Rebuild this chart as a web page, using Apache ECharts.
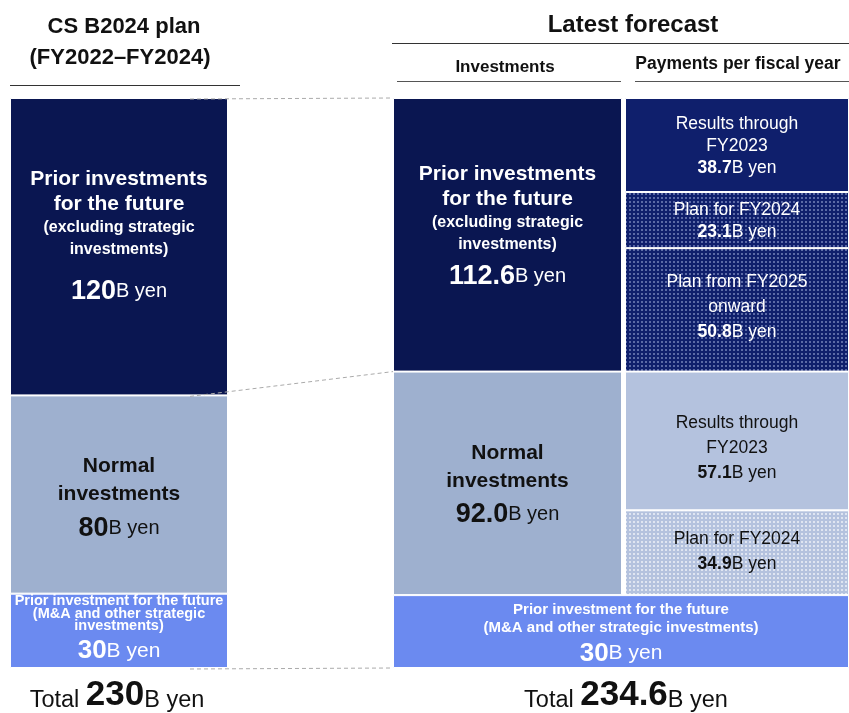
<!DOCTYPE html>
<html>
<head>
<meta charset="utf-8">
<script src="https://cdn.jsdelivr.net/npm/echarts@6/dist/echarts.min.js"></script>
<style>
  html, body { margin: 0; padding: 0; background: #fff; }
  #main { width: 849px; height: 713px; }
</style>
</head>
<body>
<div id="main"></div>
<script>
// values in billions of yen, stacked bottom -> top
var planNames = ['Strategic', 'Normal', 'Prior'];
var planValues = [30, 80, 120];
var forecastNames = ['Strategic', 'Normal', 'Prior'];
var forecastValues = [30, 92.0, 112.6];
var paymentNames = ['Normal FY2024 plan', 'Normal results', 'Prior from FY2025', 'Prior FY2024 plan', 'Prior results'];
var paymentValues = [34.9, 57.1, 50.8, 23.1, 38.7];

var font = '"Liberation Sans", Arial, sans-serif';
var planTotal = planValues.reduce(function (a, b) { return a + b }, 0);
var forecastTotal = forecastValues.reduce(function (a, b) { return a + b }, 0);

function fmt(v) { return String(Math.round(v * 10) / 10) }
function fmt1(v) { return v.toFixed(1) }

// dotted fill
function dots(base, dot) {
  var c = document.createElement('canvas');
  c.width = 4; c.height = 4;
  var ctx = c.getContext('2d');
  ctx.fillStyle = base; ctx.fillRect(0, 0, 4, 4);
  ctx.fillStyle = dot; ctx.fillRect(1, 1, 2, 2);
  return { image: c.toDataURL(), repeat: 'repeat' };
}

var navy = '#0a1651';
var navy2 = '#0f1f6c';
var grey = '#9eb0cf';
var light = '#b4c2de';
var blue = '#6b8af0';

var W = '#ffffff';
var K = '#111111';
function st(size, color, lh, bold) {
  return { fontFamily: font, fontWeight: bold ? 'bold' : 'normal', fontSize: size, color: color, lineHeight: lh };
}
var rich = {
  t: st(21, W, 25, true),
  s: st(16, W, 22, true),
  n: st(27, W, 61, true),
  u: st(20, W, 61),
  n2: st(27, W, 43, true),
  u2: st(20, W, 43),
  tg: st(21, K, 28, true),
  ng: st(27, K, 40, true),
  ug: st(20, K, 40),
  b: st(14.5, W, 12.5, true),
  nb: st(26, W, 37.5, true),
  ub: st(21, W, 37.5),
  bw: st(15, W, 18, true),
  nb2: st(26, W, 34, true),
  ub2: st(21, W, 34),
  p: st(17.5, W, 22),
  pn: st(17.5, W, 22, true),
  q: st(17.5, W, 25),
  qn: st(17.5, W, 25, true),
  d: st(17.5, K, 25),
  dn: st(17.5, K, 25, true)
};

var planLabels = [
  function (v) { return '{b|Prior investment for the future}\n{b|(M&A and other strategic}\n{b|investments)}\n{nb|' + fmt(v) + '}{ub|B yen}' },
  function (v) { return '{tg|Normal}\n{tg|investments}\n{ng|' + fmt(v) + '}{ug|B yen}' },
  function (v) { return '{t|Prior investments}\n{t|for the future}\n{s|(excluding strategic}\n{s|investments)}\n{n|' + fmt(v) + '}{u|B yen}' }
];
var forecastLabels = [
  function (v) { return '{bw|Prior investment for the future}\n{bw|(M&A and other strategic investments)}\n{nb2|' + fmt(v) + '}{ub2|B yen}' },
  function (v) { return '{tg|Normal}\n{tg|investments}\n{ng|' + fmt1(v) + '}{ug|B yen}' },
  function (v) { return '{t|Prior investments}\n{t|for the future}\n{s|(excluding strategic}\n{s|investments)}\n{n2|' + fmt1(v) + '}{u2|B yen}' }
];
var paymentLabels = [
  function (v) { return '{d|Plan for FY2024}\n{dn|' + fmt1(v) + '}{d|B yen}' },
  function (v) { return '{d|Results through}\n{d|FY2023}\n{dn|' + fmt1(v) + '}{d|B yen}' },
  function (v) { return '{q|Plan from FY2025}\n{q|onward}\n{qn|' + fmt1(v) + '}{q|B yen}' },
  function (v) { return '{p|Plan for FY2024}\n{pn|' + fmt1(v) + '}{p|B yen}' },
  function (v) { return '{p|Results through}\n{p|FY2023}\n{pn|' + fmt1(v) + '}{p|B yen}' }
];

var planColors = [blue, grey, navy];
var forecastColors = [blue, grey, navy];
var paymentColors = [dots(light, '#dfe5f1'), light, dots(navy2, '#5b6aa6'), dots(navy2, '#5b6aa6'), navy2];
var planOffsets = [[0, 1.5], [0, 6], [0, -2.5]];
var forecastOffsets = [[0, 4], [0, 3.5], [0, -5]];
var paymentOffsets = [[0, -1.5], [0, 7.5], [0, -3], [0, 1.5], [0, 1]];

var gridTop = 98, gridHeight = 570;
var grids = [
  { left: 10, top: gridTop, width: 218, height: gridHeight },
  { left: 393, top: gridTop, width: 229, height: gridHeight },
  { left: 625, top: gridTop, width: 224, height: gridHeight },
  { left: 393, top: gridTop, width: 456, height: gridHeight }
];
var maxes = [planTotal, forecastTotal, forecastTotal, forecastTotal];

var xAxis = grids.map(function (g, i) {
  return { type: 'category', gridIndex: i, data: ['a'], show: false };
});
var yAxis = grids.map(function (g, i) {
  return { type: 'value', gridIndex: i, min: 0, max: maxes[i], show: false };
});

function bar(grid, stack, value, color, label, offset, opts) {
  opts = opts || {};
  return {
    type: 'bar',
    xAxisIndex: grid, yAxisIndex: grid,
    stack: stack,
    barWidth: '100%',
    data: [value],
    silent: true,
    itemStyle: {
      color: color,
      borderColor: opts.hide ? 'transparent' : '#fff',
      borderWidth: opts.hide ? 0 : 1
    },
    label: {
      show: !!label,
      position: 'inside',
      offset: offset || [0, 0],
      align: 'center',
      formatter: label ? label(value) : '',
      rich: rich
    }
  };
}

var series = [];
planValues.forEach(function (v, i) {
  series.push(bar(0, 'plan', v, planColors[i], planLabels[i], planOffsets[i]));
});
forecastValues.forEach(function (v, i) {
  if (i === 0) {
    // strategic block spans both forecast columns (drawn in grid 3)
    series.push(bar(1, 'inv', v, 'transparent', null, null, { hide: true }));
    series.push(bar(2, 'pay', v, 'transparent', null, null, { hide: true }));
    series.push(bar(3, 'strat', v, forecastColors[i], forecastLabels[i], forecastOffsets[i]));
  } else {
    series.push(bar(1, 'inv', v, forecastColors[i], forecastLabels[i], forecastOffsets[i]));
  }
});
paymentValues.forEach(function (v, i) {
  series.push(bar(2, 'pay', v, paymentColors[i], paymentLabels[i], paymentOffsets[i]));
});

function txt(x, y, text, size) {
  return {
    type: 'text', x: x, y: y, z: 10,
    style: { text: text, font: 'bold ' + size + 'px ' + font, fill: '#111', align: 'center', verticalAlign: 'middle' }
  };
}
function hline(x1, x2, y, color) {
  return { type: 'line', z: 10, shape: { x1: x1, y1: y, x2: x2, y2: y }, style: { stroke: color || '#333', lineWidth: 1 } };
}
function totalText(x, y, total) {
  return {
    type: 'text', x: x, y: y, z: 10,
    style: {
      text: '{a|Total }{b|' + fmt(total) + '}{a|B yen}',
      align: 'center', verticalAlign: 'middle',
      rich: {
        a: { fontFamily: font, fontSize: 23.5, fill: '#111', verticalAlign: 'bottom', lineHeight: 36 },
        b: { fontFamily: font, fontWeight: 'bold', fontSize: 35, fill: '#111', verticalAlign: 'bottom', lineHeight: 36 }
      }
    }
  };
}

var graphic = [
  txt(124, 27, 'CS B2024 plan', 22),
  txt(120, 58, '(FY2022\u2013FY2024)', 22),
  hline(10, 240, 85.5),
  txt(633, 25, 'Latest forecast', 24),
  hline(392, 849, 43.5),
  txt(505, 67, 'Investments', 17),
  txt(738, 64, 'Payments per fiscal year', 17.5),
  hline(397, 621, 81.5, '#555'),
  hline(635, 849, 81.5, '#555'),
  totalText(117, 695, planTotal),
  totalText(626, 695, forecastTotal)
];

var chart = echarts.init(document.getElementById('main'));
chart.setOption({
  animation: false,
  grid: grids,
  xAxis: xAxis,
  yAxis: yAxis,
  series: series
});

// dashed connectors between the plan bar and the forecast bar
var pairs = [
  [planTotal, forecastTotal],
  [planValues[0] + planValues[1], forecastValues[0] + forecastValues[1]],
  [0, 0]
];
pairs.forEach(function (p) {
  var y1 = chart.convertToPixel({ yAxisIndex: 0 }, p[0]);
  var y2 = chart.convertToPixel({ yAxisIndex: 1 }, p[1]);
  graphic.push({
    type: 'line', z: 20,
    shape: { x1: 190, y1: y1 + 1, x2: 393, y2: y2 },
    style: { stroke: '#aaaaaa', lineWidth: 1, lineDash: [4, 3] }
  });
});
chart.setOption({ graphic: graphic });
</script>
</body>
</html>
